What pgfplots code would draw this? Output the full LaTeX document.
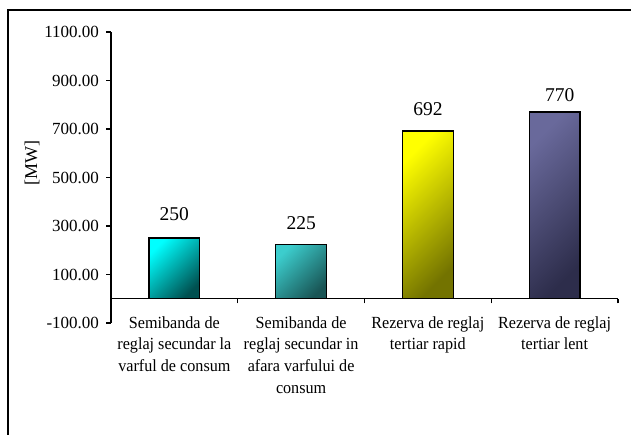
\documentclass[border=0pt]{standalone}
\usepackage{fontspec}
\setmainfont{Liberation Serif}
\newfontfamily\condfont[FakeStretch=0.95]{Liberation Serif}
\usepackage{pgfplots}
\pgfplotsset{compat=1.18}

\definecolor{bara}{RGB}{0,255,255}
\definecolor{barad}{RGB}{0,80,80}
\definecolor{barb}{RGB}{60,205,205}
\definecolor{barbd}{RGB}{25,85,85}
\definecolor{barc}{RGB}{255,255,0}
\definecolor{barcd}{RGB}{115,115,0}
\definecolor{bard}{RGB}{105,105,155}
\definecolor{bardd}{RGB}{45,45,75}

\begin{document}
\begin{tikzpicture}
% page = 631 x 435 bp, axis box lower left at (0,0)
\path[use as bounding box] (-111bp,-112bp) rectangle (520bp,323bp);
\draw[line width=1.3bp] (-103bp,-140bp) -- (-103bp,313bp) -- (560bp,313bp);
\begin{axis}[
scale only axis,
width=507bp, height=291bp,
xmin=0, xmax=4,
ymin=-100, ymax=1100,
axis y line=left,
axis x line=middle,
axis line style={-, line width=1.3bp, black},
tick style={line width=1.3bp, black},
tick align=outside,
major tick length=4.5bp,
ytick={-100,100,300,500,700,900,1100},
yticklabels={-100.00,100.00,300.00,500.00,700.00,900.00,1100.00},
yticklabel style={xshift=-4bp, font=\fontsize{17bp}{20bp}\selectfont},
xtick={0,1,2,3,4},
xticklabels={},
extra x ticks={0.5,1.5,2.5,3.5},
extra x tick labels={
  {Semibanda de\\reglaj secundar la\\varful de consum},
  {Semibanda de\\reglaj secundar in\\afara varfului de\\consum},
  {Rezerva de reglaj\\tertiar rapid},
  {Rezerva de reglaj\\tertiar lent}},
extra x tick style={major tick length=0pt,
  xticklabel style={align=center, anchor=north, yshift=-14bp,
    font=\condfont\fontsize{17bp}{21.7bp}\selectfont}},
ybar, bar width=0.4, bar shift=0pt,
every axis plot/.append style={draw=black, line width=1.3bp, shading angle=45},
point meta=explicit symbolic,
nodes near coords,
nodes near coords style={font=\fontsize{19.5bp}{19.5bp}\selectfont, anchor=south, inner sep=0pt},
clip=false,
]
\addplot[top color=bara, bottom color=barad, shading angle=45,
  nodes near coords style={yshift=17bp}] coordinates {(0.5,250) [250]};
\addplot[top color=barb, bottom color=barbd, shading angle=45,
  nodes near coords style={yshift=14bp}] coordinates {(1.5,225) [225]};
\addplot[top color=barc, bottom color=barcd, shading angle=45,
  nodes near coords style={yshift=15bp}] coordinates {(2.5,692) [692]};
\addplot[top color=bard, bottom color=bardd, shading angle=45,
  nodes near coords style={yshift=10bp, xshift=5bp}] coordinates {(3.5,770) [770]};
\end{axis}
\node[rotate=90, font=\fontsize{18bp}{18bp}\selectfont] at (-79bp,160bp) {[MW]};
\end{tikzpicture}
\end{document}
